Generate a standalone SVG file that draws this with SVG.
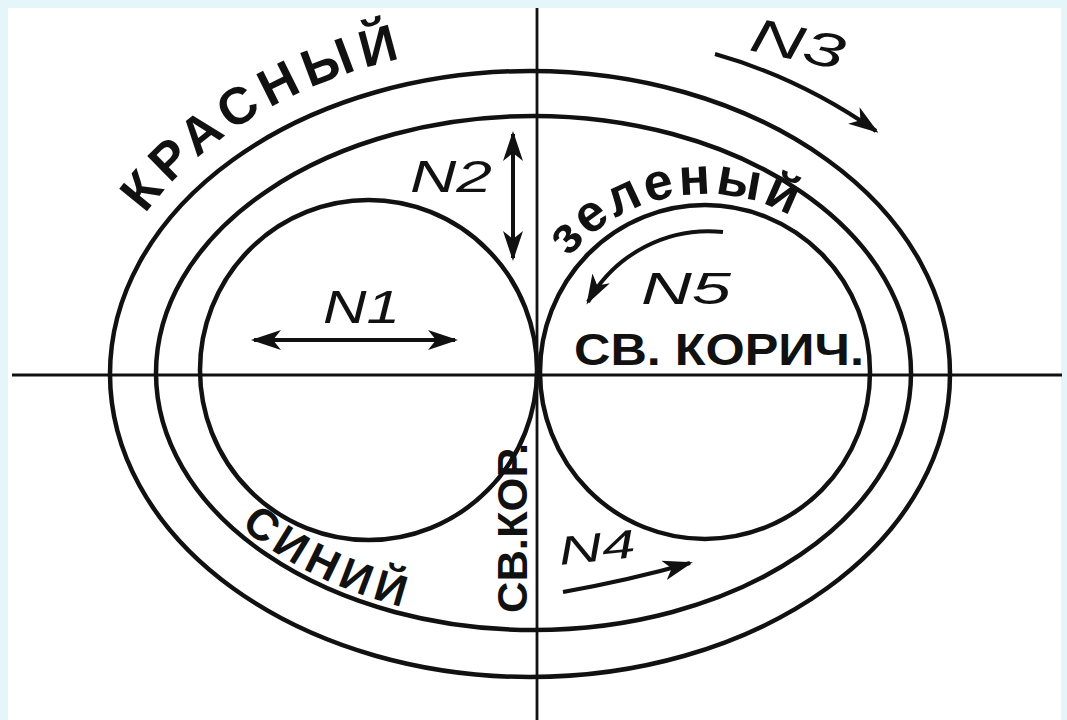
<svg xmlns="http://www.w3.org/2000/svg" width="1067" height="720" viewBox="0 0 1067 720">
  <style>
    .ln { fill: none; stroke: #111; stroke-width: 4.5; }
    .ax { fill: none; stroke: #111; stroke-width: 2.8; }
    .ar { fill: none; stroke: #111; stroke-width: 4; }
    .lb { font-family: "Liberation Sans", "DejaVu Sans", sans-serif; font-weight: bold; fill: #111; }
    .nm { font-family: "Liberation Sans", "DejaVu Sans", sans-serif; font-style: italic; fill: #111; }
  </style>
  <defs>
    <marker id="ah" markerUnits="userSpaceOnUse" markerWidth="32" markerHeight="22" refX="27" refY="10" orient="auto-start-reverse">
      <path d="M0,0 L30,10 L0,20 L8,10 z" fill="#111"/>
    </marker>
    <path id="redArc" d="M90,374 A440,330 0 0 1 970,374"/>
    <path id="greenArc" d="M527,372 A178,178 0 0 1 883,372"/>
    <path id="blueArc" d="M163,373 A370,250 0 0 0 903,373"/>
  </defs>

  <rect x="0" y="0" width="1067" height="720" fill="#e4f6fa"/>
  <rect x="8" y="8" width="1053" height="712" fill="#ffffff"/>

  <g id="axes">
    <line class="ax" x1="537" y1="8" x2="537" y2="720"/>
    <line class="ax" x1="12" y1="375" x2="1062" y2="375"/>
  </g>

  <g id="outer-red">
    <ellipse class="ln" cx="530" cy="374" rx="420" ry="303"/>
    <text class="lb" font-size="52" textLength="305" lengthAdjust="spacing"><textPath href="#redArc" startOffset="172">КРАСНЫЙ</textPath></text>
  </g>

  <g id="middle-green">
    <ellipse class="ln" cx="533.5" cy="373" rx="377.5" ry="257"/>
  </g>

  <g id="left-circle">
    <ellipse class="ln" cx="368.5" cy="370" rx="168.5" ry="170"/>
  </g>

  <g id="right-circle">
    <ellipse class="ln" cx="705" cy="372" rx="165" ry="167"/>
  </g>

  <g id="labels">
    <text class="lb" font-size="52" textLength="245" lengthAdjust="spacing"><textPath href="#greenArc" startOffset="124">зеленый</textPath></text>
    <text class="lb" font-size="44" textLength="182" lengthAdjust="spacing"><textPath href="#blueArc" startOffset="177">СИНИЙ</textPath></text>
    <text class="lb" font-size="44" x="574" y="365" textLength="290" lengthAdjust="spacingAndGlyphs">СВ. КОРИЧ.</text>
    <text class="lb" font-size="42" x="527" y="613" textLength="170" lengthAdjust="spacingAndGlyphs" transform="rotate(-90 527 613)">СВ.КОР.</text>
    <text class="nm" font-size="46" x="323" y="323" textLength="77" lengthAdjust="spacingAndGlyphs">N1</text>
    <text class="nm" font-size="44" x="410" y="192" textLength="82" lengthAdjust="spacingAndGlyphs">N2</text>
    <text class="nm" font-size="48" x="748" y="50" textLength="95" lengthAdjust="spacingAndGlyphs" transform="rotate(12 748 50)">N3</text>
    <text class="nm" font-size="40" x="560" y="565" textLength="77" lengthAdjust="spacingAndGlyphs" transform="rotate(-6 560 565)">N4</text>
    <text class="nm" font-size="45" x="641" y="304" textLength="90" lengthAdjust="spacingAndGlyphs">N5</text>
  </g>

  <g id="connectors">
    <line class="ar" x1="254" y1="340" x2="455" y2="340" marker-start="url(#ah)" marker-end="url(#ah)"/>
    <line class="ar" x1="513" y1="134" x2="513" y2="258" marker-start="url(#ah)" marker-end="url(#ah)"/>
    <path class="ar" d="M715,54 Q800,78 876,131" marker-end="url(#ah)"/>
    <path class="ar" d="M563,592 Q630,580 690,563" marker-end="url(#ah)"/>
    <path class="ar" d="M723,232 A138,138 0 0 0 588,302" marker-end="url(#ah)"/>
  </g>
</svg>
